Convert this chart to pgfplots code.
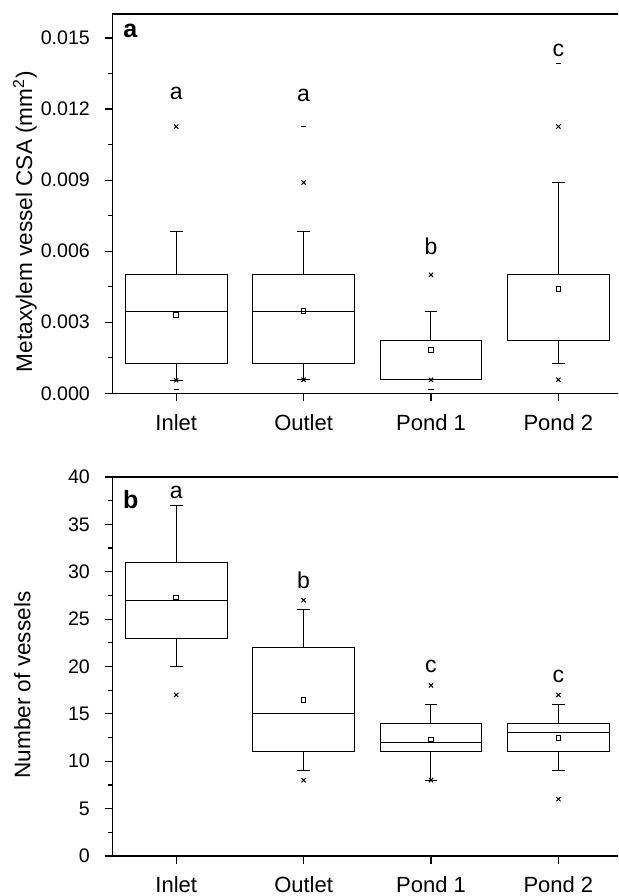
\documentclass[border=0pt]{standalone}
\usepackage{fontspec}
\setmainfont{Liberation Sans}
\usepackage{pgfplots}
\pgfplotsset{compat=1.18}
\usepgfplotslibrary{statistics}

\pgfplotsset{
  panel/.style={
    scale only axis, width=254.8pt, height=189.5pt,
    xmin=0.5, xmax=4.5,
    xtick={1,2,3,4}, xticklabels={Inlet,Outlet,Pond 1,Pond 2},
    xtick pos=lower, ytick pos=left, tick align=outside,
    major tick length=3.9pt, minor tick length=2pt,
    minor y tick num=1,
    axis line style={line width=0.8pt},
    every tick/.style={black, line width=0.6pt},
    xticklabel style={font=\fontsize{11}{13}\selectfont, anchor=base, yshift=-14.5pt},
    yticklabel style={font=\fontsize{9.8}{12}\selectfont, anchor=east, inner sep=0pt, xshift=-7.2pt},
    /pgf/number format/assume math mode=true,
    ylabel style={font=\fontsize{11.3}{13}\selectfont, anchor=center},
    boxplot/draw direction=y,
    boxplot/box extend=0.8,
    boxplot/whisker extend=0.1,
    clip=false,
  },
  bx/.style={black, line width=0.5pt, solid, mark=none},
  mean/.style={only marks, mark=square, mark size=1.15pt, mark options={black, line width=0.4pt}},
  crs/.style={only marks, mark=x, mark size=1.5pt, mark options={black, line width=0.5pt}},
  dsh/.style={only marks, mark=-, mark size=1.3pt, mark options={black, line width=0.5pt}},
}
\tikzset{
  grp/.style={font=\fontsize{11.5}{13}\selectfont},
  pl/.style={font=\bfseries\fontsize{12.5}{14}\selectfont},
}

\begin{document}
\begin{tikzpicture}
\path[use as bounding box] (0,0) rectangle (309pt,448pt);
\clip (0,0) rectangle (309pt,448pt);

% panel a: metaxylem vessel CSA, values in units of 0.001 mm^2
\begin{axis}[panel, at={(56.25pt,251.35pt)}, anchor=south west,
    ymin=0, ymax=16,
    ytick={0,3,6,9,12,15},
    yticklabels={0.000,0.003,0.006,0.009,0.012,0.015},
    ylabel={Metaxylem vessel CSA (mm\textsuperscript{2})},
    ylabel style={at={(axis description cs:-0.1717,0.453)}},
]
\addplot[bx, boxplot prepared={draw position=1, lower whisker=0.55,
    lower quartile=1.25, median=3.47, upper quartile=5.0,
    upper whisker=6.82}] coordinates {};
\addplot[bx, boxplot prepared={draw position=2, lower whisker=0.57,
    lower quartile=1.25, median=3.47, upper quartile=5.0,
    upper whisker=6.82}] coordinates {};
\addplot[bx, boxplot prepared={draw position=3, lower whisker=0.57,
    lower quartile=0.57, median=0.57, upper quartile=2.235,
    upper whisker=3.47}] coordinates {};
\addplot[bx, boxplot prepared={draw position=4, lower whisker=1.25,
    lower quartile=2.235, median=2.235, upper quartile=5.0,
    upper whisker=8.9}] coordinates {};
\addplot[mean] coordinates {(1,3.30) (2,3.47) (3,1.83) (4,4.41)};
\addplot[crs] coordinates {
    (1,11.26) (1,0.55)
    (2,8.9) (2,0.57)
    (3,5.0) (3,0.57)
    (4,11.26) (4,0.57)
};
\addplot[dsh] coordinates {(1,0.15) (2,11.26) (3,0.15) (4,13.92)};
\node[grp] at (axis cs:1,12.68) {a};
\node[grp] at (axis cs:2,12.58) {a};
\node[grp] at (axis cs:3,6.21) {b};
\node[grp] at (axis cs:4,14.48) {c};
\node[pl] at (axis cs:0.639,15.28) {a};
\end{axis}

% panel b: number of vessels
\begin{axis}[panel, at={(56.25pt,20pt)}, anchor=south west,
    ymin=0, ymax=40,
    ytick={0,5,...,40},
    ylabel={Number of vessels},
    ylabel style={at={(axis description cs:-0.177,0.451)}},
]
\addplot[bx, boxplot prepared={draw position=1, lower whisker=20,
    lower quartile=23, median=27, upper quartile=31,
    upper whisker=37}] coordinates {};
\addplot[bx, boxplot prepared={draw position=2, lower whisker=9,
    lower quartile=11, median=15, upper quartile=22,
    upper whisker=26}] coordinates {};
\addplot[bx, boxplot prepared={draw position=3, lower whisker=8,
    lower quartile=11, median=12, upper quartile=14,
    upper whisker=16}] coordinates {};
\addplot[bx, boxplot prepared={draw position=4, lower whisker=9,
    lower quartile=11, median=13, upper quartile=14,
    upper whisker=16}] coordinates {};
\addplot[mean] coordinates {(1,27.28) (2,16.48) (3,12.3) (4,12.48)};
\addplot[crs] coordinates {
    (1,17)
    (2,27) (2,8)
    (3,18) (3,8)
    (4,17) (4,6)
};
\node[grp] at (axis cs:1,38.4) {a};
\node[grp] at (axis cs:2,29.1) {b};
\node[grp] at (axis cs:3,19.96) {c};
\node[grp] at (axis cs:4,19.0) {c};
\node[pl] at (axis cs:0.644,37.6) {b};
\end{axis}
\end{tikzpicture}
\end{document}
